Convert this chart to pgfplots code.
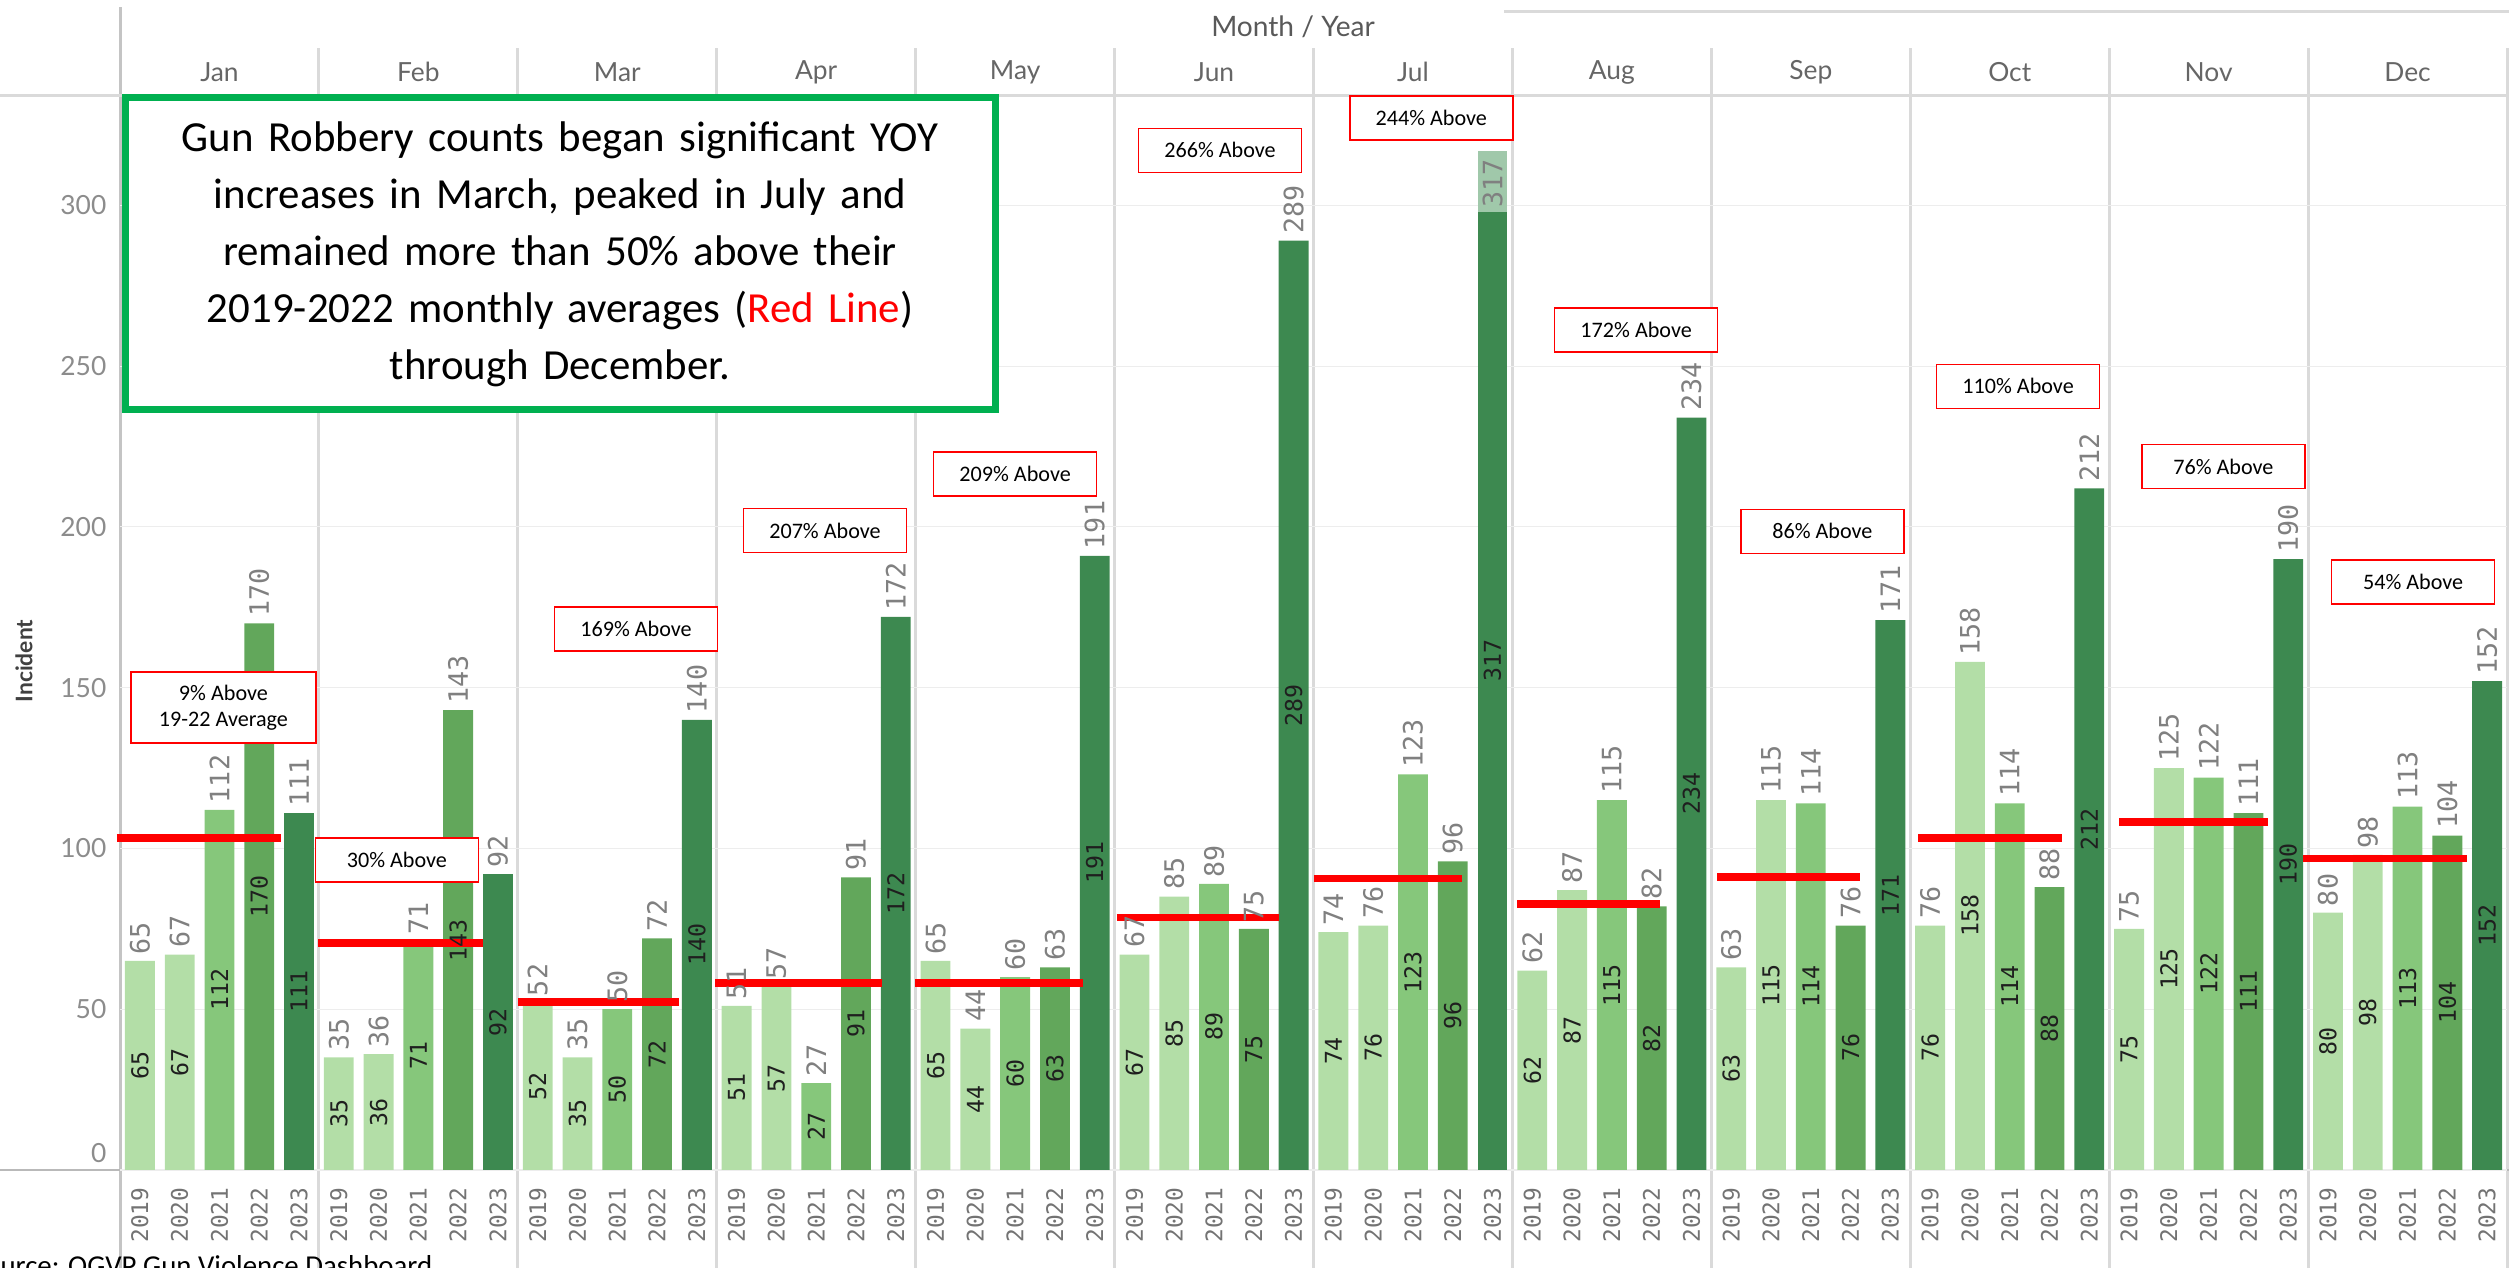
\documentclass[border=0pt]{standalone}
\usepackage{pgfplots}
\pgfplotsset{compat=1.18}
\usepackage{pgfplotstable}
\usepackage{fontspec}
\setmainfont{Lato}
\newfontfamily\calfont{Carlito}
\newfontfamily\monofont{DejaVu Sans Mono}
\definecolor{cA}{RGB}{179,222,167}
\definecolor{cC}{RGB}{134,199,123}
\definecolor{cD}{RGB}{98,167,91}
\definecolor{cE}{RGB}{61,137,80}
\definecolor{cCap}{RGB}{160,200,170}
\definecolor{sepc}{RGB}{218,218,218}
\definecolor{tickc}{RGB}{140,140,140}
\definecolor{boxgreen}{RGB}{0,176,80}

% month index, 2019, 2020, 2021, 2022, 2023
\pgfplotstableread{
m  a   b   c   d   e
0  65  67  112 170 111
1  35  36  71  143 92
2  52  35  50  72  140
3  51  57  27  91  172
4  65  44  60  63  191
5  67  85  89  75  289
6  74  76  123 96  317
7  62  87  115 82  234
8  63  115 114 76  171
9  76  158 114 88  212
10 75  125 122 111 190
11 80  98  113 104 152
}\data

\tikzset{
  gl/.style={rotate=90, anchor=west, font=\monofont\fontsize{7.6}{8}\selectfont, text=black!50, inner sep=0.6mm},
  il/.style={rotate=90, anchor=center, font=\monofont\fontsize{6.6}{7}\selectfont, text=black!88, inner sep=0pt},
  ab/.style={draw=red, line width=0.45pt, fill=white, font=\calfont\fontsize{6.3}{7.6}\selectfont, minimum width=16.3mm, minimum height=4.4mm, inner sep=0.4mm, align=center},
}
\pgfplotsset{
  bb/.style={ybar, bar width=0.75, bar shift=0pt, draw=none, point meta=explicit symbolic, nodes near coords, every node near coord/.append style={gl}},
  ib/.style={draw=none, mark=none, point meta=explicit symbolic, nodes near coords, every node near coord/.append style={il}},
  rl/.style={draw=red, line width=0.75mm},
}

\begin{document}
\begin{tikzpicture}
% frame / separators
\foreach \k in {1,...,12} \draw[sepc, line width=0.3mm] ({12mm+\k*19.8917mm},0mm) -- ({12mm+\k*19.8917mm},122mm);
\draw[sepc!90!black, line width=0.3mm] (12mm,0mm) -- (12mm,126.1mm);
\draw[sepc, line width=0.3mm] (0mm,117.2mm) -- (250.9mm,117.2mm);
\draw[sepc!85!black, line width=0.25mm] (0mm,9.8mm) -- (250.9mm,9.8mm);
\draw[sepc, line width=0.3mm] (150.4mm,125.6mm) -- (250.9mm,125.6mm);
\foreach \m [count=\k from 0] in {Jan,Feb,Mar,Apr,May,Jun,Jul,Aug,Sep,Oct,Nov,Dec}
  \node[font=\fontsize{7.5}{8}\selectfont, text=black!60] at ({12mm+(\k+0.5)*19.8917mm},119.6mm) {\m};
\node[font=\fontsize{8}{9}\selectfont, text=black!65] at (129.3mm,124.1mm) {Month / Year};
\node[rotate=90, font=\bfseries\fontsize{6.5}{7}\selectfont, text=black!75] at (2.4mm,60.7mm) {Incident};

\begin{axis}[
  at={(12mm,9.8mm)}, anchor=south west,
  width=238.7mm, height=107.4mm, scale only axis,
  xmin=-0.5, xmax=59.5, ymin=0, ymax=334,
  clip=false,
  axis line style={draw=none},
  major tick length=0pt,
  ytick={50,100,...,300},
  extra y ticks={0},
  extra y tick style={yticklabel style={yshift=1.7mm}},
  ymajorgrids, major grid style={draw=black!7, line width=0.3pt},
  /pgf/number format/assume math mode=true,
  yticklabel style={font=\fontsize{7.5}{8}\selectfont, text=tickc, anchor=east, inner sep=0pt, xshift=-1.3mm},
  xtick={0,...,59},
  xticklabel={\pgfmathparse{int(2019+mod(round(\tick),5))}\pgfmathresult},
  xticklabel style={rotate=90, anchor=east, inner xsep=1.7mm, inner ysep=0pt, font=\monofont\fontsize{6.5}{7}\selectfont, text=black!55},
]
% bars with value labels above
\addplot[bb, fill=cA] table[x expr=5*\thisrow{m}, y=a, meta=a]{\data};
\addplot[bb, fill=cA] table[x expr=5*\thisrow{m}+1, y=b, meta=b]{\data};
\addplot[bb, fill=cC] table[x expr=5*\thisrow{m}+2, y=c, meta=c]{\data};
\addplot[bb, fill=cD] table[x expr=5*\thisrow{m}+3, y=d, meta=d]{\data};
\addplot[bb, fill=cE, skip coords between index={6}{7}] table[x expr=5*\thisrow{m}+4, y=e, meta=e]{\data};
% July 2023: highlighted top with label inside
\addplot[bb, fill=cCap, restrict x to domain=33.5:34.5, every node near coord/.append style={anchor=east, inner sep=0.8mm}] table[x expr=5*\thisrow{m}+4, y=e, meta=e]{\data};
\addplot[ybar, bar width=0.75, bar shift=0pt, draw=none, fill=cE] coordinates {(34,298)};
% labels inside the bars
\addplot[ib] table[x expr=5*\thisrow{m}, y expr=\thisrow{a}/2, meta=a]{\data};
\addplot[ib] table[x expr=5*\thisrow{m}+1, y expr=\thisrow{b}/2, meta=b]{\data};
\addplot[ib] table[x expr=5*\thisrow{m}+2, y expr=\thisrow{c}/2, meta=c]{\data};
\addplot[ib] table[x expr=5*\thisrow{m}+3, y expr=\thisrow{d}/2, meta=d]{\data};
\addplot[ib] table[x expr=5*\thisrow{m}+4, y expr=\thisrow{e}/2, meta=e]{\data};
% 2019-2022 monthly averages (red lines)
\addplot[rl] coordinates {(-0.58,103.2) (3.55,103.2)};
\addplot[rl] coordinates {(4.48,70.6) (8.63,70.6)};
\addplot[rl] coordinates {(9.5,52.2) (13.55,52.2)};
\addplot[rl] coordinates {(14.46,58.2) (18.66,58.2)};
\addplot[rl] coordinates {(19.48,58.2) (23.71,58.2)};
\addplot[rl] coordinates {(24.56,78.5) (28.64,78.5)};
\addplot[rl] coordinates {(29.51,90.6) (33.24,90.6)};
\addplot[rl] coordinates {(34.62,82.7) (38.21,82.7)};
\addplot[rl] coordinates {(39.65,91.1) (43.24,91.1)};
\addplot[rl] coordinates {(44.7,103.2) (48.32,103.2)};
\addplot[rl] coordinates {(49.75,108.2) (53.5,108.2)};
\addplot[rl] coordinates {(54.38,96.8) (58.5,96.8)};
% annotation boxes
\node[ab, minimum width=18.5mm, minimum height=7.1mm] at (axis cs:2.1,143.8) {9\% Above\\19-22 Average};
\node[ab] at (axis cs:6.46,96.4) {30\% Above};
\node[ab] at (axis cs:12.47,168.2) {169\% Above};
\node[ab] at (axis cs:17.22,198.9) {207\% Above};
\node[ab] at (axis cs:22.0,216.4) {209\% Above};
\node[ab] at (axis cs:27.15,317.1) {266\% Above};
\node[ab] at (axis cs:32.46,327.2) {244\% Above};
\node[ab] at (axis cs:37.61,261.3) {172\% Above};
\node[ab] at (axis cs:42.29,198.6) {86\% Above};
\node[ab] at (axis cs:47.21,243.7) {110\% Above};
\node[ab] at (axis cs:52.37,218.8) {76\% Above};
\node[ab] at (axis cs:57.14,182.8) {54\% Above};
\end{axis}

\node[draw=boxgreen, line width=0.7mm, fill=white, minimum width=87mm, minimum height=31.2mm, text width=86mm, align=center, inner sep=0pt, font=\calfont\fontsize{12.2}{16.2}\selectfont] at (56mm,101.4mm)
 {Gun Robbery counts began significant YOY\\ increases in March, peaked in July and\\ remained more than 50\% above their\\ 2019-2022 monthly averages (\textcolor{red}{Red Line})\\ through December.};
\node[anchor=base west, inner sep=0pt, font=\calfont\fontsize{8.2}{9}\selectfont] at (-2.86mm,-0.77mm) {Source: OGVP Gun Violence Dashboard};

\pgfresetboundingbox
\path[use as bounding box] (0mm,0mm) rectangle (250.9mm,126.8mm);
\end{tikzpicture}
\end{document}
